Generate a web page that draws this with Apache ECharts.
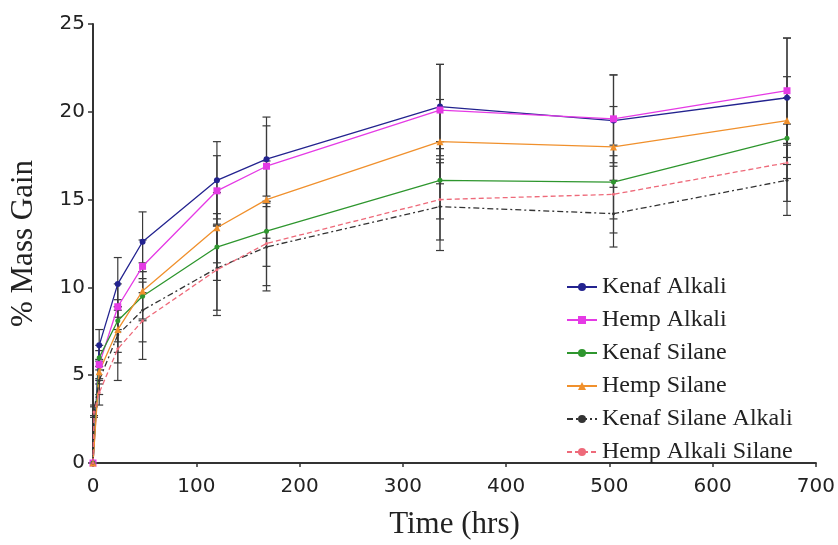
<!DOCTYPE html>
<html>
<head>
<meta charset="utf-8">
<script src="https://cdn.jsdelivr.net/npm/echarts@6/dist/echarts.min.js"></script>
<style>html,body{margin:0;padding:0;background:#fff;}#c{width:838px;height:545px;}</style>
</head>
<body>
<div id="c"></div>
<script>
var times = [0, 1, 6, 24, 48, 120, 168, 336, 504, 672];
var xTicks = [0, 100, 200, 300, 400, 500, 600, 700];
var yTicks = [0, 5, 10, 15, 20, 25];

var kenafAlkali       = [0, null, 6.7, 10.2, 12.6, 16.1, 17.3, 20.3, 19.5, 20.8];
var hempAlkali        = [0, null, 5.6, 8.9, 11.2, 15.5, 16.9, 20.1, 19.6, 21.2];
var kenafSilane       = [0, null, 6.0, 8.1, 9.5, 12.3, 13.2, 16.1, 16.0, 18.5];
var hempSilane        = [0, null, 5.2, 7.6, 9.8, 13.4, 15.0, 18.3, 18.0, 19.5];
var kenafSilaneAlkali = [0, 3.0, 4.7, 7.3, 8.7, 11.1, 12.3, 14.6, 14.2, 16.1];
var hempAlkaliSilane  = [0, 2.9, 4.0, 6.5, 8.1, 11.0, 12.5, 15.0, 15.3, 17.1];

var kenafAlkaliErr       = [0, 0, 0.9, 1.5, 1.7, 2.2, 2.4, 2.4, 2.6, 3.4];
var hempAlkaliErr        = [0, 0, 0.8, 1.3, 1.5, 2.0, 2.3, 2.6, 2.5, 3.0];
var kenafSilaneErr       = [0, 0, 0.7, 1.2, 1.4, 1.9, 2.0, 2.2, 2.1, 2.3];
var hempSilaneErr        = [0, 0, 0.7, 1.3, 1.6, 2.0, 2.2, 2.4, 2.3, 2.5];
var kenafSilaneAlkaliErr = [0, 0.3, 0.8, 1.6, 1.8, 2.4, 2.5, 2.5, 1.9, 2.0];
var hempAlkaliSilaneErr  = [0, 0.3, 0.7, 1.8, 2.2, 2.6, 2.4, 2.3, 2.2, 2.2];

var seriesNames = ['Kenaf Alkali', 'Hemp Alkali', 'Kenaf Silane', 'Hemp Silane', 'Kenaf Silane Alkali', 'Hemp Alkali Silane'];
var seriesValues = [kenafAlkali, hempAlkali, kenafSilane, hempSilane, kenafSilaneAlkali, hempAlkaliSilane];
var seriesErrs = [kenafAlkaliErr, hempAlkaliErr, kenafSilaneErr, hempSilaneErr, kenafSilaneAlkaliErr, hempAlkaliSilaneErr];

var styles = [
  {color: '#23238f', symbol: 'circle', size: 6, type: 'solid'},
  {color: '#e53ae5', symbol: 'rect', size: 7, type: 'solid'},
  {color: '#2e962e', symbol: 'circle', size: 5, type: 'solid'},
  {color: '#f0902c', symbol: 'triangle', size: 7, type: 'solid'},
  {color: '#333333', symbol: 'circle', size: 3, type: [6, 3, 2, 3]},
  {color: '#ee6a7a', symbol: 'circle', size: 3, type: [5, 3]}
];

function pairs(vals) {
  var out = [];
  for (var i = 0; i < times.length; i++) {
    if (vals[i] !== null) out.push([times[i], vals[i]]);
  }
  return out;
}
function errTriples(vals, errs) {
  var out = [];
  for (var i = 0; i < times.length; i++) {
    if (vals[i] !== null && errs[i] > 0) out.push([times[i], vals[i], errs[i]]);
  }
  return out;
}

function renderErr(params, api) {
  var x = api.value(0), y = api.value(1), e = api.value(2);
  var top = api.coord([x, y + e]);
  var bot = api.coord([x, y - e]);
  var w = 4;
  var st = {stroke: '#3a3a3a', lineWidth: 1.2};
  return {
    type: 'group',
    children: [
      {type: 'line', shape: {x1: top[0], y1: top[1], x2: bot[0], y2: bot[1]}, style: st},
      {type: 'line', shape: {x1: top[0] - w, y1: top[1], x2: top[0] + w, y2: top[1]}, style: st},
      {type: 'line', shape: {x1: bot[0] - w, y1: bot[1], x2: bot[0] + w, y2: bot[1]}, style: st}
    ]
  };
}

var series = [];
for (var k = 0; k < seriesNames.length; k++) {
  series.push({
    name: seriesNames[k] + ' err',
    type: 'custom',
    renderItem: renderErr,
    data: errTriples(seriesValues[k], seriesErrs[k]),
    encode: {x: 0, y: 1},
    z: 1,
    silent: true
  });
}
for (var k = 0; k < seriesNames.length; k++) {
  var s = styles[k];
  series.push({
    name: seriesNames[k],
    type: 'line',
    data: pairs(seriesValues[k]),
    symbol: s.symbol,
    symbolSize: s.size,
    showAllSymbol: true,
    lineStyle: {color: s.color, width: 1.3, type: s.type},
    itemStyle: {color: s.color},
    z: 3,
    animation: false
  });
}

var chart = echarts.init(document.getElementById('c'), null, {renderer: 'canvas'});
chart.setOption({
  animation: false,
  backgroundColor: '#ffffff',
  grid: {left: 83, right: 21, top: 24, bottom: 76, containLabel: false},
  legend: {
    data: seriesNames,
    orient: 'vertical',
    left: 561,
    top: 270,
    itemWidth: 30,
    itemHeight: 10,
    itemGap: 9,
    textStyle: {fontFamily: 'Liberation Serif', fontSize: 24, color: '#222', lineHeight: 24}
  },
  xAxis: {
    type: 'value',
    min: xTicks[0],
    max: xTicks[xTicks.length - 1],
    interval: xTicks[1] - xTicks[0],
    name: 'Time (hrs)',
    nameLocation: 'middle',
    nameGap: 46,
    nameTextStyle: {fontFamily: 'Liberation Serif', fontSize: 31, color: '#222'},
    axisLine: {lineStyle: {color: '#333', width: 2}},
    axisTick: {show: true, length: 4, inside: false, lineStyle: {color: '#333', width: 1.5}},
    axisLabel: {fontFamily: 'DejaVu Sans', fontSize: 20, color: '#222', margin: 14},
    splitLine: {show: false}
  },
  yAxis: {
    type: 'value',
    min: yTicks[0],
    max: yTicks[yTicks.length - 1],
    interval: yTicks[1] - yTicks[0],
    name: '% Mass Gain',
    nameLocation: 'middle',
    nameGap: 54,
    nameRotate: 90,
    nameTextStyle: {fontFamily: 'Liberation Serif', fontSize: 31, color: '#222'},
    axisLine: {show: true, lineStyle: {color: '#333', width: 2}},
    axisTick: {show: true, length: 5, lineStyle: {color: '#333', width: 1.5}},
    axisLabel: {fontFamily: 'DejaVu Sans', fontSize: 20, color: '#222', margin: 8},
    splitLine: {show: false}
  },
  series: series
});
</script>
</body>
</html>
